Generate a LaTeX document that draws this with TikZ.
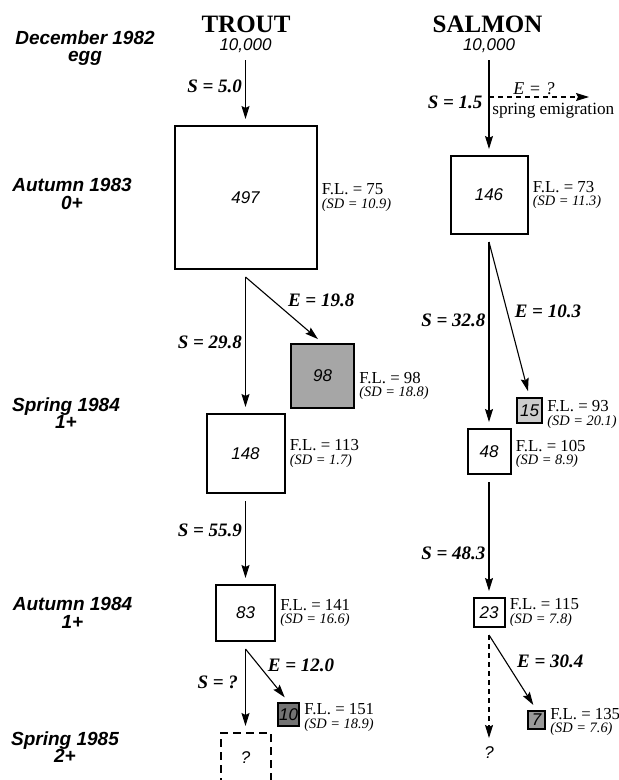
\documentclass[tikz,border=0pt]{standalone}
\usepackage{fontspec}
\setmainfont{Liberation Serif}
\newfontfamily\helv{Liberation Sans}
\usetikzlibrary{arrows.meta,positioning,calc}

\tikzset{
  pop/.style={draw,line width=1pt,inner sep=0pt,font=\helv\itshape\fontsize{8.5}{8.5}\selectfont},
  stage/.style={align=center,font=\helv\bfseries\itshape\fontsize{9.5}{8.7}\selectfont},
  species/.style={font=\bfseries\fontsize{12.5}{12.5}\selectfont},
  start/.style={font=\helv\itshape\fontsize{8.5}{8.5}\selectfont},
  fl/.style={align=left,inner sep=1pt,font=\fontsize{8.4}{6.6}\selectfont},
  rate/.style={inner sep=1.5pt,font=\bfseries\itshape\fontsize{9.5}{9.5}\selectfont},
  flow/.style={-{Stealth[length=6.5pt,width=4pt,inset=1pt]},line width=0.55pt,shorten >=3pt},
  dashline/.style={dash pattern=on 2.5pt off 2pt},
}
\newcommand{\flsd}[2]{F.L. = #1\\{\fontsize{7.2}{6.6}\selectfont\itshape (SD = #2)}}

\begin{document}
\begin{tikzpicture}[x=0.5pt,y=-0.5pt]
  \useasboundingbox (0,0) rectangle (619,780);

  % stages
  \node[stage] (dec82) at (85,48) {December 1982\\egg};
  \node[stage] (aut83) at (72,194) {Autumn 1983\\0+};
  \node[stage] (spr84) at (66,413) {Spring 1984\\1+};
  \node[stage] (aut84) at (72.5,613) {Autumn 1984\\1+};
  \node[stage] (spr85) at (65,747) {Spring 1985\\2+};

  % trout
  \node[species] (trout) at (246,24) {TROUT};
  \node[start] (t10k) at (245.5,46) {10,000};
  \node[pop,minimum width=71pt,minimum height=71.5pt] (t497) at (245.5,197.5) {497};
  \node[pop,fill=black!35,minimum width=31.5pt,minimum height=32pt] (t98) at (322.5,376) {98};
  \node[pop,minimum width=39pt,minimum height=39.5pt] (t148) at (245.5,453.5) {148};
  \node[pop,minimum width=29.5pt,minimum height=28pt] (t83) at (245.5,613) {83};
  \node[pop,fill=black!55,minimum width=10.5pt,minimum height=11.5pt] (t10) at (288.5,714.5) {10};
  \node[pop,dash pattern=on 4pt off 2.5pt,minimum width=25pt,minimum height=25pt] (tq) at (245.5,758) {?};

  \node[fl,right=1pt of t497] (t497fl) {\flsd{75}{10.9}};
  \node[fl,right=1pt of t98,yshift=-5pt] (t98fl) {\flsd{98}{18.8}};
  \node[fl,right=1pt of t148] (t148fl) {\flsd{113}{1.7}};
  \node[fl,right=1pt of t83] (t83fl) {\flsd{141}{16.6}};
  \node[fl,right=1pt of t10,yshift=-1.5pt] (t10fl) {\flsd{151}{18.9}};

  \coordinate (t497out) at ($(t497.south)+(0,7)$);
  \coordinate (t148out) at ($(t148.south)+(0,7)$);
  \coordinate (t83out) at ($(t83.south)+(0,7)$);

  \draw[flow] (t10k) -- node[rate,left,pos=0.4] {S = 5.0} (t497);
  \draw[flow] (t497out) -- node[rate,left,pos=0.48] {S = 29.8} (t148);
  \draw[flow] (t497out) -- node[rate,right=6pt,pos=0.35] {E = 19.8} (t98.north);
  \draw[flow] (t148out) -- node[rate,left,pos=0.35] {S = 55.9} (t83);
  \draw[flow] (t83out) -- node[rate,left=2pt,pos=0.4] {S = ?} (tq);
  \draw[flow] (t83out) -- node[rate,right=3pt,pos=0.3] {E = 12.0} (t10.north);

  % salmon
  \node[species] (salmon) at (487.5,24) {SALMON};
  \node[start] (s10k) at (489,46) {10,000};
  \node[pop,minimum width=38.5pt,minimum height=39pt] (s146) at (489,195) {146};
  \node[pop,fill=black!20,minimum width=12.5pt,minimum height=12.5pt] (s15) at (529.5,410.5) {15};
  \node[pop,minimum width=21.5pt,minimum height=22.5pt] (s48) at (489,451.5) {48};
  \node[pop,minimum width=15.5pt,minimum height=14.5pt] (s23) at (489,612.5) {23};
  \node[pop,fill=black!40,minimum width=8.5pt,minimum height=9pt] (s7) at (536.5,720) {7};
  \node[start] (sq) at (489,753) {?};

  \node[fl,right=1pt of s146] (s146fl) {\flsd{73}{11.3}};
  \node[fl,right=1pt of s15,yshift=-2pt] (s15fl) {\flsd{93}{20.1}};
  \node[fl,right=1pt of s48,yshift=-1.25pt] (s48fl) {\flsd{105}{8.9}};
  \node[fl,right=1pt of s23] (s23fl) {\flsd{115}{7.8}};
  \node[fl,right=1pt of s7,yshift=-1pt] (s7fl) {\flsd{135}{7.6}};

  \coordinate (sfork) at (489,97);
  \coordinate (semig) at (589,97);
  \coordinate (s146out) at ($(s146.south)+(0,7)$);
  \coordinate (s48out) at ($(s48.south)+(0,7)$);
  \coordinate (s23out) at ($(s23.south)+(0,7)$);

  \draw[flow] (s10k) -- node[rate,left=1.5pt,pos=0.44] {S = 1.5} (s146);
  \draw[flow,dashline,shorten >=0pt] (sfork) -- node[above,inner sep=1pt,pos=0.45,font=\itshape\fontsize{9}{9}\selectfont] {E = ?} (semig);
  \node[below right=2pt and 0.5pt of sfork,inner sep=1pt,font=\fontsize{8.6}{8.6}\selectfont] (spremig) {spring emigration};
  \draw[flow] (s146out) -- node[rate,left,pos=0.42] {S = 32.8} (s48);
  \draw[flow] (s146out) -- node[rate,right=2pt,pos=0.45] {E = 10.3} (s15.north);
  \draw[flow] (s48out) -- node[rate,left,pos=0.62] {S = 48.3} (s23);
  \draw[flow,dashline,shorten >=1pt] (s23out) -- (sq);
  \draw[flow] (s23out) -- node[rate,right=4pt,pos=0.35] {E = 30.4} (s7.north);
\end{tikzpicture}
\end{document}
